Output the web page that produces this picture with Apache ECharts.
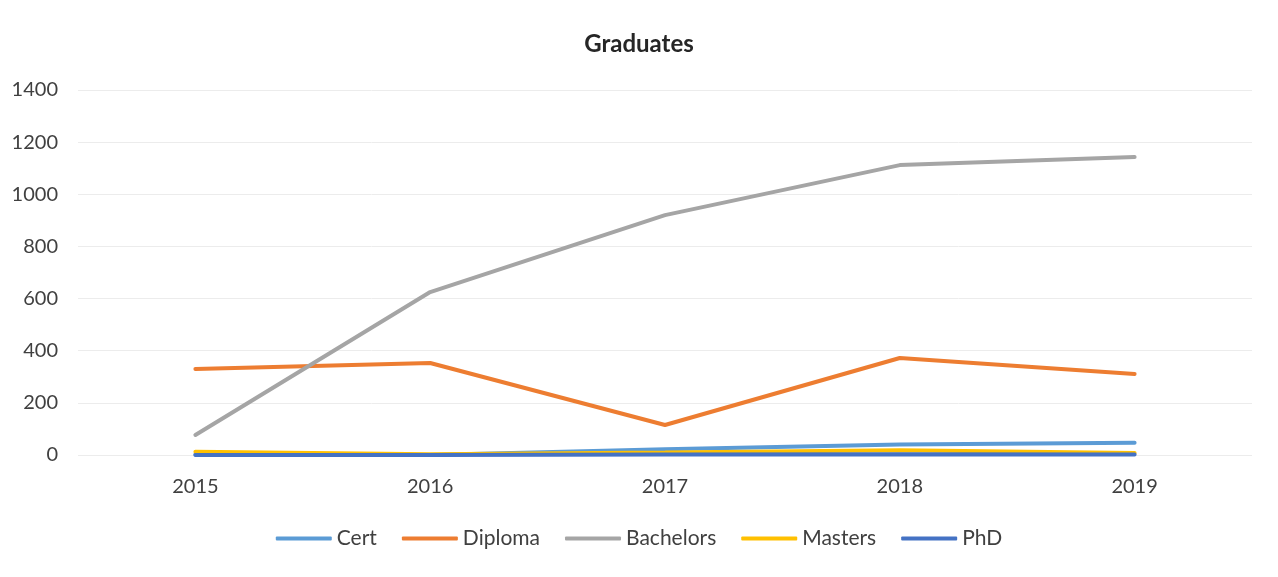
<!DOCTYPE html>
<html>
<head>
<meta charset="utf-8">
<script src="https://cdn.jsdelivr.net/npm/echarts@6/dist/echarts.min.js"></script>
<style>
  html, body { margin: 0; padding: 0; background: #fff; }
  #chart { width: 1278px; height: 577px; }
</style>
</head>
<body>
<div id="chart"></div>
<script>
// years on the x axis
const years = ['2015', '2016', '2017', '2018', '2019']
// graduates per level
const cert = [2, 0, 22, 40, 47]
const diploma = [330, 353, 115, 372, 311]
const bachelors = [77, 625, 920, 1112, 1143]
const masters = [12, 3, 10, 18, 8]
const phd = [0, 0, 2, 3, 2]

const font = 'Lato'
const chart = echarts.init(document.getElementById('chart'))

function line(name, data, color) {
  return {
    name: name,
    type: 'line',
    data: data,
    symbol: 'none',
    lineStyle: { width: 4, color: color, cap: 'round' },
    itemStyle: { color: color }
  }
}

chart.setOption({
  animation: false,
  title: {
    text: 'Graduates',
    left: 'center',
    top: 27,
    textStyle: { fontFamily: font, fontSize: 24, fontWeight: 'bold', color: '#262626' }
  },
  legend: {
    bottom: 23,
    left: 'center',
    itemWidth: 56,
    itemHeight: 4,
    itemGap: 25,
    icon: 'roundRect',
    textStyle: { fontFamily: font, fontSize: 21, color: '#404040' },
    data: ['Cert', 'Diploma', 'Bachelors', 'Masters', 'PhD']
  },
  grid: { left: 78, right: 26, top: 90, bottom: 122 },
  xAxis: {
    type: 'category',
    data: years,
    boundaryGap: true,
    axisLine: { show: false },
    axisTick: { show: false },
    axisLabel: { fontFamily: font, fontSize: 20, color: '#404040', margin: 22 }
  },
  yAxis: {
    type: 'value',
    min: 0,
    max: 1400,
    interval: 200,
    axisLabel: {
      fontFamily: font, fontSize: 20, color: '#404040', margin: 20,
      formatter: function (v) { return String(v) }
    },
    splitLine: { lineStyle: { color: '#ececec', width: 1 } }
  },
  series: [
    line('Cert', cert, '#5b9bd5'),
    line('Diploma', diploma, '#ed7d31'),
    line('Bachelors', bachelors, '#a5a5a5'),
    line('Masters', masters, '#ffc000'),
    line('PhD', phd, '#4472c4')
  ]
})
</script>
</body>
</html>
